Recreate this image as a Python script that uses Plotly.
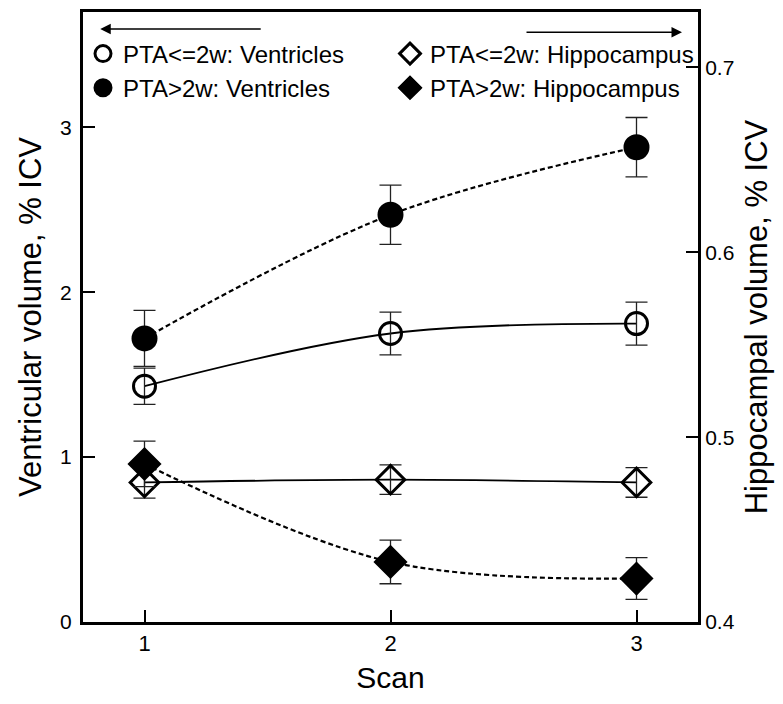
import plotly.graph_objects as go

scans = [1, 2, 3]

vent_le2w = [1.43, 1.75, 1.81]
vent_le2w_err = [0.11, 0.13, 0.13]
vent_gt2w = [1.72, 2.47, 2.88]
vent_gt2w_err = [0.17, 0.18, 0.18]

hip_le2w = [0.4755, 0.4770, 0.4755]
hip_le2w_err = [0.0085, 0.008, 0.008]
hip_gt2w = [0.4855, 0.4325, 0.4235]
hip_gt2w_err = [0.0123, 0.0118, 0.0113]

names = ["PTA<=2w: Ventricles", "PTA<=2w: Hippocampus",
         "PTA>2w: Ventricles", "PTA>2w: Hippocampus"]

FONT = "Liberation Sans, Arial, sans-serif"

fig = go.Figure()

# fitted curves (no legend)
def curve(y, yaxis, dash, width):
    fig.add_trace(go.Scatter(x=scans, y=y, yaxis=yaxis, mode="lines",
                             line=dict(color="black", width=width, dash=dash, shape="spline", smoothing=1.0),
                             showlegend=False, hoverinfo="skip"))

curve(vent_le2w, "y", "solid", 1.8)
curve(vent_gt2w, "y", "5px,3px", 2.2)
curve(hip_le2w, "y2", "solid", 1.8)
curve(hip_gt2w, "y2", "5px,3px", 2.2)

def pts(y, err, yaxis, symbol, size, name):
    fig.add_trace(go.Scatter(x=scans, y=y, yaxis=yaxis, mode="markers", name=name,
                             marker=dict(symbol=symbol, size=size, color="black",
                                         line=dict(color="black", width=3)),
                             error_y=dict(type="data", array=err, visible=True,
                                          color="#222", thickness=1.3, width=11)))

pts(vent_le2w, vent_le2w_err, "y", "circle-open", 22, names[0])
pts(hip_le2w, hip_le2w_err, "y2", "diamond-open", 22, names[1])
pts(vent_gt2w, vent_gt2w_err, "y", "circle", 23, names[2])
pts(hip_gt2w, hip_gt2w_err, "y2", "diamond", 23, names[3])

fig.update_layout(
    width=783, height=704,
    margin=dict(l=83, r=85, t=9, b=82),
    plot_bgcolor="white", paper_bgcolor="white",
    font=dict(family=FONT, color="black", size=21),
    showlegend=True,
    legend=dict(orientation="h", x=0.0, xanchor="left", y=0.968, yanchor="top",
                entrywidth=262, entrywidthmode="pixels",
                font=dict(family=FONT, size=24, color="black"), bgcolor="rgba(0,0,0,0)",
                itemsizing="trace", tracegroupgap=0),
    xaxis=dict(range=[0.75, 3.25], tickvals=scans, ticktext=[str(s) for s in scans],
               ticks="inside", ticklen=12, tickwidth=1.5, tickcolor="black",
               showline=True, linecolor="black", linewidth=3, mirror=True,
               showgrid=False, zeroline=False,
               title=dict(text="Scan", font=dict(family=FONT, size=30), standoff=12),
               tickfont=dict(family=FONT, size=22)),
    yaxis=dict(range=[0, 3.7], tickvals=[0, 1, 2, 3],
               ticks="inside", ticklen=12, tickwidth=1.5, tickcolor="black",
               showline=True, linecolor="black", linewidth=3,
               showgrid=False, zeroline=False, ticklabelstandoff=4,
               title=dict(text="Ventricular volume, % ICV", font=dict(family=FONT, size=31), standoff=10),
               tickfont=dict(family=FONT, size=21)),
    yaxis2=dict(range=[0.4, 0.73], tickvals=[0.4, 0.5, 0.6, 0.7], ticktext=["0.4", "0.5", "0.6", "0.7"],
                overlaying="y", side="right",
                ticks="inside", ticklen=12, tickwidth=1.5, tickcolor="black",
                showline=True, linecolor="black", linewidth=3,
                showgrid=False, zeroline=False,
                title=dict(text="Hippocampal volume, % ICV", font=dict(family=FONT, size=31), standoff=12),
                tickfont=dict(family=FONT, size=21)),
)

# axis direction arrows
fig.add_annotation(xref="paper", yref="paper", x=0.028, y=0.972, ax=162, ay=0,
                   text="", showarrow=True, arrowhead=2, arrowsize=1.4, arrowwidth=1.5, arrowcolor="black")
fig.add_annotation(xref="paper", yref="paper", x=0.974, y=0.967, ax=-157, ay=0,
                   text="", showarrow=True, arrowhead=2, arrowsize=1.4, arrowwidth=1.5, arrowcolor="black")

fig.write_html("out.html")
